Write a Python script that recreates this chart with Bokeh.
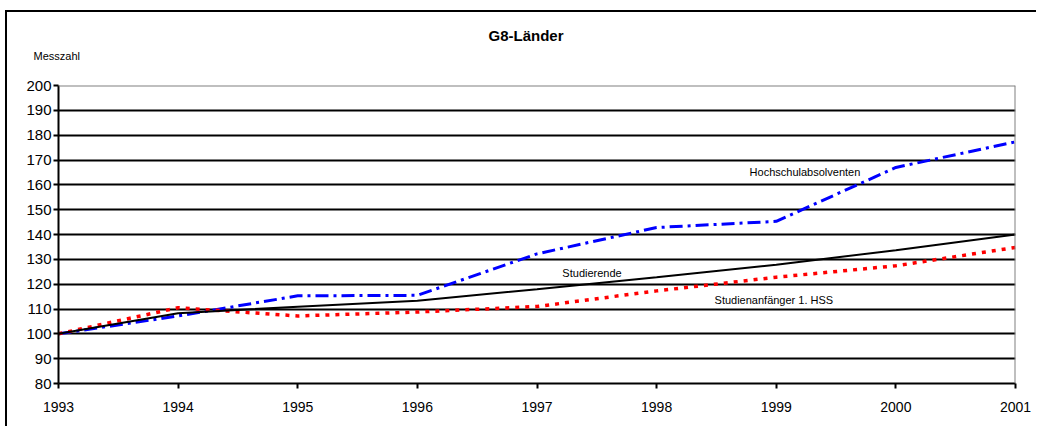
from bokeh.plotting import figure
from bokeh.models import Range1d, FixedTicker, Label, Span, Title
from bokeh.embed import file_html
from bokeh.resources import INLINE

years = [1993, 1994, 1995, 1996, 1997, 1998, 1999, 2000, 2001]
studierende = [100, 108.3, 110.9, 113.3, 118.0, 122.8, 127.8, 133.7, 140.0]
absolventen = [100, 107.2, 115.3, 115.5, 132.2, 142.8, 145.3, 167.0, 177.3]
anfaenger = [100, 110.5, 107.2, 108.8, 111.0, 117.3, 122.8, 127.4, 134.8]

y_ticks = [80, 90, 100, 110, 120, 130, 140, 150, 160, 170, 180, 190, 200]

FONT = "Liberation Sans"

p = figure(width=1031, height=416, output_backend="svg", toolbar_location=None,
           x_range=Range1d(1993, 2001), y_range=Range1d(80, 200),
           min_border_left=51, min_border_right=23, min_border_top=73, min_border_bottom=45,
           title=None)
p.styles = {"margin-left": "5px", "margin-top": "10px",
            "border-left": "2px solid black", "border-top": "2px solid black"}

p.outline_line_color = None
p.background_fill_color = "white"
p.border_fill_color = "white"

# axes
for ax in (p.xaxis[0], p.yaxis[0]):
    ax.axis_line_color = "black"
    ax.axis_line_width = 2
    ax.major_tick_line_color = "black"
    ax.major_tick_line_width = 2
    ax.major_tick_in = 0
    ax.major_tick_out = 5
    ax.minor_tick_line_color = None
    ax.major_label_text_font = FONT
    ax.major_label_text_color = "black"

p.xaxis.major_label_text_font_size = "14px"
p.yaxis.major_label_text_font_size = "15px"
p.xaxis.ticker = FixedTicker(ticks=years)
p.yaxis.ticker = FixedTicker(ticks=y_ticks)
p.xaxis.major_label_standoff = 13
p.yaxis.major_label_standoff = 2

p.xgrid.grid_line_color = None
p.ygrid.ticker = FixedTicker(ticks=y_ticks[:-1])
p.ygrid.grid_line_color = "black"
p.ygrid.grid_line_width = 2

p.add_layout(Span(location=200, dimension="width", line_color="#808080", line_width=2))
p.add_layout(Span(location=2001, dimension="height", line_color="#808080", line_width=2))

p.line(years, absolventen, line_color="#0000FF", line_width=3, line_dash="13 5 3 5")
p.line(years, anfaenger, line_color="#FF0000", line_width=3.5, line_dash="4 6")
p.line(years, studierende, line_color="black", line_width=2)

def lab(x, y, t):
    p.add_layout(Label(x=x, y=y, text=t, text_font=FONT, text_font_size="11px",
                       text_align="center", text_baseline="middle", text_color="black"))

lab(1999.24, 165.2, "Hochschulabsolventen")
lab(1997.46, 124.6, "Studierende")
lab(1998.98, 113.7, "Studienanfänger 1. HSS")

p.add_layout(Title(text="Messzahl", align="left", offset=-25, standoff=47,
                   text_font=FONT, text_font_size="11px", text_font_style="normal",
                   text_color="black"), "above")
p.add_layout(Title(text="G8-Länder", align="left", offset=430, standoff=-38,
                   text_font=FONT, text_font_size="15px", text_font_style="bold",
                   text_color="black"), "above")

open("out.html", "w").write(file_html(p, INLINE))
